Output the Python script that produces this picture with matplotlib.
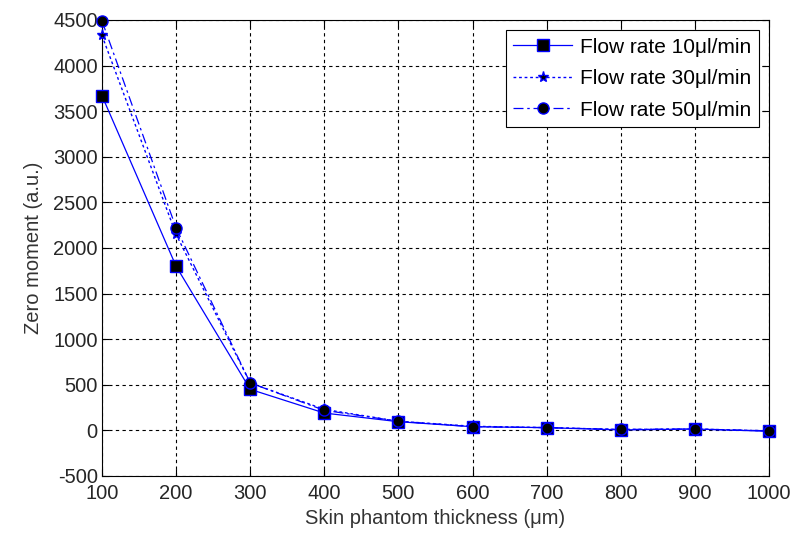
import matplotlib.pyplot as plt

plt.rcParams['font.family'] = ['Liberation Sans', 'DejaVu Sans']
plt.rcParams['axes.unicode_minus'] = False

thickness = [100, 200, 300, 400, 500, 600, 700, 800, 900, 1000]
flow_10 = [3670, 1800, 450, 190, 95, 40, 30, 5, 15, -10]
flow_30 = [4330, 2150, 520, 230, 100, 45, 30, 10, 15, -5]
flow_50 = [4490, 2220, 520, 220, 100, 40, 30, 10, 15, -5]
labels = ['Flow rate 10\u03bcl/min', 'Flow rate 30\u03bcl/min', 'Flow rate 50\u03bcl/min']

fig = plt.figure(figsize=(7.93, 5.33), dpi=100)
ax = fig.add_axes([0.1286, 0.107, 0.8411, 0.8555])

blue = '#0000ff'
ax.plot(thickness, flow_10, '-', color=blue, lw=0.9, marker='s', ms=9,
        mfc='black', mec=blue, label=labels[0], clip_on=False, zorder=3)
ax.plot(thickness, flow_30, color=blue, lw=1.0, ls=(0, (2, 2)), marker='*', ms=8,
        mfc='black', mec=blue, label=labels[1], clip_on=False, zorder=3)
ax.plot(thickness, flow_50, color=blue, lw=0.9, ls=(0, (8, 3, 2, 3)), marker='o', ms=8,
        mfc='black', mec=blue, label=labels[2], clip_on=False, zorder=3)

ax.set_xlim(100, 1000)
ax.set_ylim(-500, 4500)
ax.set_xticks(thickness)
ax.set_yticks(range(-500, 4501, 500))
ax.grid(True, color='black', linestyle=(0, (3, 3)), lw=0.8)
ax.tick_params(direction='in', top=True, right=True, labelsize=14.5, length=5,
               labelcolor='#262626')
ax.tick_params(axis='x', pad=6)
ax.tick_params(axis='y', pad=3)
for s in ax.spines.values():
    s.set_linewidth(0.8)

ax.set_xlabel('Skin phantom thickness (\u03bcm)', fontsize=14.5, color='#333333', labelpad=4)
ax.set_ylabel('Zero moment (a.u.)', fontsize=14.5, color='#333333', labelpad=7)

leg = ax.legend(loc='upper right', fontsize=15, fancybox=False, framealpha=1,
                edgecolor='black', borderaxespad=0.5, handlelength=2.8,
                labelspacing=0.6, borderpad=0.35, handletextpad=0.4)
leg.get_frame().set_linewidth(0.8)

fig.savefig('out.png', dpi=100)
